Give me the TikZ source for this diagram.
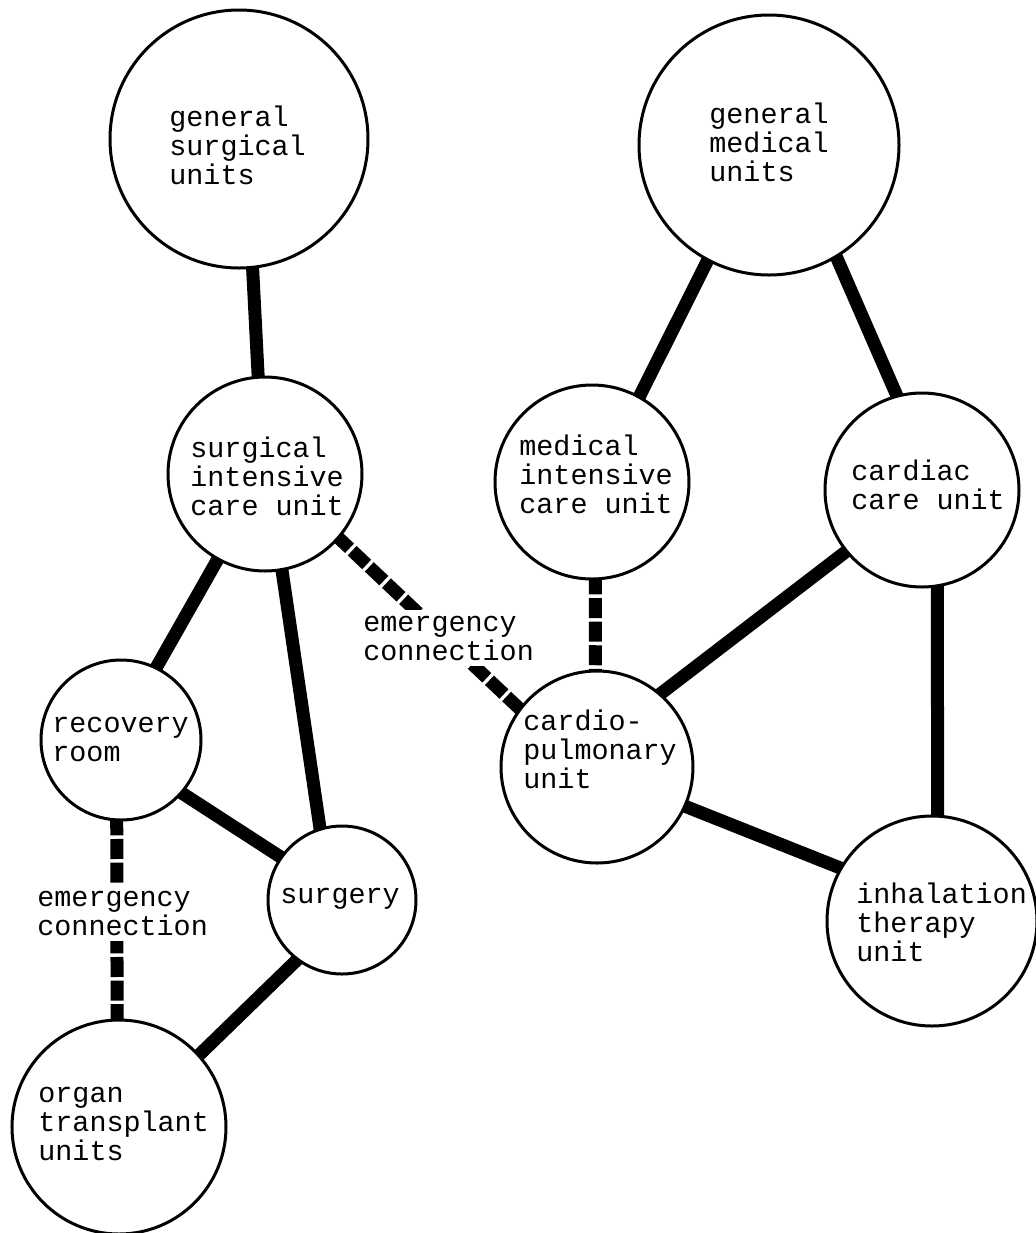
\documentclass[tikz,border=0pt]{standalone}
\usepackage{fontspec}
\setmonofont{Liberation Mono}
\usetikzlibrary{backgrounds}
\begin{document}
\begin{tikzpicture}[x=0.5pt,y=-0.5pt,
  ward/.style={circle, draw, line width=1.5pt, fill=white, inner sep=0pt, minimum size=#1},
  txt/.style={anchor=west, inner sep=0pt, align=left, font=\ttfamily\fontsize{14.2}{14.5}\selectfont},
  link/.style={line width=6.5pt, shorten <=-3pt, shorten >=-3pt},
  emerg/.style={link, dash pattern=on 10pt off 1.8pt},
  elabel/.style={txt, fill=white, inner xsep=1pt, inner ysep=3pt}]
\useasboundingbox (0,0) rectangle (1036,1233);
% circles
\node[ward=129pt] (gsu) at (239,139) {};
\node[ward=130pt] (gmu) at (769,145) {};
\node[ward=97pt] (sicu) at (265,474) {};
\node[ward=97pt] (micu) at (592,482) {};
\node[ward=97pt] (ccu) at (922,490) {};
\node[ward=80pt] (rr) at (121,740) {};
\node[ward=74pt] (surg) at (342,900) {};
\node[ward=96pt] (cpu) at (597,767) {};
\node[ward=105pt] (itu) at (932,921) {};
\node[ward=107pt] (otu) at (119,1127) {};
% texts
\node[txt] (tgsu) at (169,145) {general\\surgical\\units};
\node[txt] (tgmu) at (709,142) {general\\medical\\units};
\node[txt] (tsicu) at (190,476) {surgical\\intensive\\care unit};
\node[txt] (tmicu) at (519,474) {medical\\intensive\\care unit};
\node[txt] (tccu) at (851,485) {cardiac\\care unit};
\node[txt] (trr) at (52,739) {recovery\\room};
\node[txt] (tsurg) at (280,899) {surgery};
\node[txt] (tcpu) at (523,749) {cardio-\\pulmonary\\unit};
\node[txt] (titu) at (856,922) {inhalation\\therapy\\unit};
\node[txt] (totu) at (38,1124) {organ\\transplant\\units};
% connectors
\begin{pgfonlayer}{background}
\fill[white] (0,0) rectangle (1036,1233);
\draw[link] (gsu.-84) -- (sicu.94);
\draw[link] (gmu.-118) -- (micu.61);
\draw[link] (gmu.-59) -- (ccu.105);
\draw[link] (sicu.-119) -- (rr.64);
\draw[link] (sicu.-80) -- (surg.107);
\draw[link] (rr.-41) -- (surg.145);
\draw[link] (surg.-127) -- (otu.42);
\draw[link] (cpu.49) -- (ccu.-141);
\draw[link] (ccu.-81) -- (itu.87);
\draw[link] (cpu.-24) -- (itu.150);
\draw[emerg] (rr.-93) -- (otu.91);
\draw[emerg] (sicu.-41) -- (cpu.143);
\draw[emerg] (micu.-88) -- (cpu.91);
\end{pgfonlayer}
% emergency labels
\node[elabel] (e1) at (35,913) {emergency\\connection};
\node[elabel] (e2) at (361,638) {emergency\\connection};
\end{tikzpicture}
\end{document}
